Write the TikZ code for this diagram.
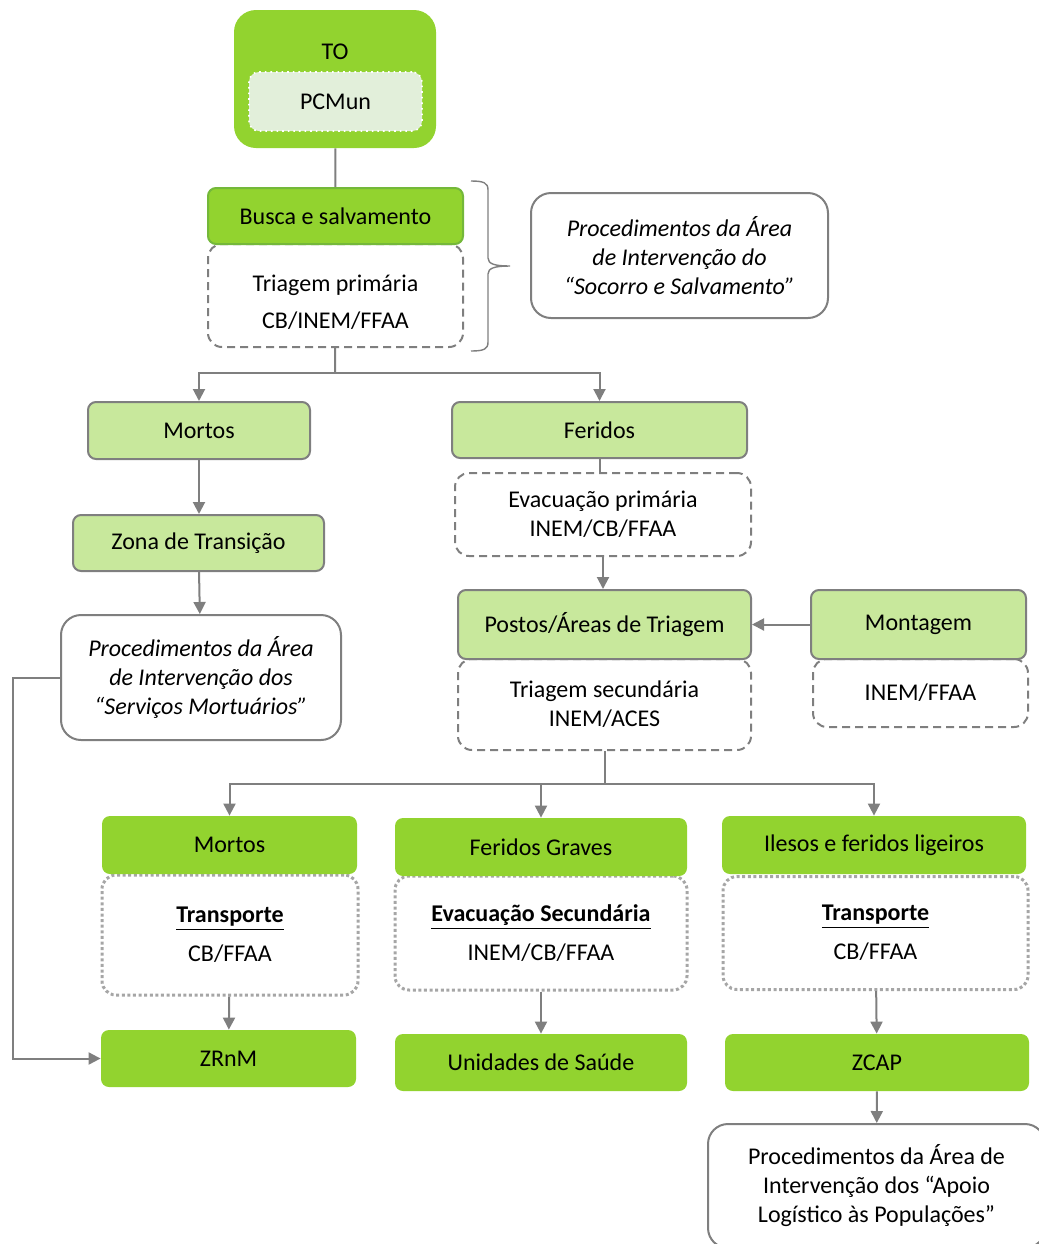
\documentclass[tikz,border=0pt]{standalone}
\usepackage{fontspec}
\setmainfont{Carlito}
\usetikzlibrary{
  arrows.meta,
  positioning
}
\definecolor{limeFill}{HTML}{92D32F}
\definecolor{limeEdge}{HTML}{74B83A}
\definecolor{paleFill}{HTML}{C8E89C}
\definecolor{mintFill}{HTML}{E2EFDA}
\definecolor{edgeGrey}{HTML}{7F7F7F}
\definecolor{dotGrey}{HTML}{A6A6A6}

\begin{document}
\begin{tikzpicture}[x=0.5pt, y=-0.5pt,
  every node/.style={font=\fontsize{12}{14.5}\selectfont, align=center, inner sep=0pt},
  wh/.style 2 args={minimum width=#1*0.5pt, minimum height=#2*0.5pt},
  lime/.style={fill=limeFill, rounded corners=4pt},
  pale/.style={fill=paleFill, draw=edgeGrey, line width=1pt, rounded corners=4pt},
  dashbox/.style={draw=edgeGrey, line width=1pt, dash pattern=on 4pt off 2.5pt, rounded corners=7pt},
  dotbox/.style={draw=dotGrey, line width=1.5pt, dash pattern=on 1.5pt off 1.3pt, rounded corners=7pt},
  procbox/.style={draw=edgeGrey, fill=white, line width=1pt, rounded corners=10pt},
  link/.style={draw=edgeGrey, line width=1pt},
  arrow/.style={link, -{Triangle[length=6pt, width=6pt]}}
]
  \useasboundingbox (0,0) rectangle (1039,1244);

  % top: operations theatre with the municipal command post
  \node[lime, rounded corners=11pt, wh={202}{138}] (to) at (335,79) {};
  \node (tolabel) at (335,52) {TO};
  \node[fill=mintFill, draw=white, dotted, line width=0.8pt, rounded corners=5pt, wh={173}{59}] (pcmun) at (335.5,101.5) {PCMun};

  % search and rescue
  \node[dashbox, wh={255}{103}] (triprim) at (335.5,295.5) {};
  \node (triprimtext) at (335.5,302) {Triagem primária\\[4pt] CB/INEM/FFAA};
  \node[lime, draw=limeEdge, line width=1pt, wh={255}{56}] (busca) at (335.5,216) {Busca e salvamento};
  \draw[edgeGrey, line width=0.7pt] (471,181) .. controls (484,181) and (488,183) .. (488,190) -- (488,258)
    .. controls (488,264) and (495,266) .. (510,266) .. controls (495,266) and (488,268) .. (488,274) -- (488,342)
    .. controls (488,349) and (484,351) .. (471,351);
  \node[procbox, wh={297}{125}, font=\fontsize{12}{14.5}\selectfont\itshape] (socorro) at (679.5,255.5)
    {Procedimentos da Área\\ de Intervenção do\\ “Socorro e Salvamento”};

  % dead branch
  \node[pale, wh={222}{57}] (mortos) at (199,430.5) {Mortos};
  \node[pale, wh={251}{56}] (zona) at (198.5,543) {Zona de Transição};
  \node[procbox, wh={280}{125}, font=\fontsize{12}{14.5}\selectfont\itshape] (servicos) at (201,677.5)
    {Procedimentos da Área\\ de Intervenção dos\\ “Serviços Mortuários”};

  % injured branch
  \node[pale, wh={295}{56}] (feridos) at (599.5,430) {Feridos};
  \node[dashbox, wh={296}{83}] (evacprim) at (603,514.5) {Evacuação primária\\ INEM/CB/FFAA};
  \node[dashbox, wh={293}{91}] (trisec) at (604.5,704.5) {Triagem secundária\\ INEM/ACES};
  \node[pale, wh={293}{69}] (postos) at (604.5,624.5) {Postos/Áreas de Triagem};
  \node[dashbox, wh={215}{68}] (montinem) at (920.5,693) {INEM/FFAA};
  \node[pale, wh={215}{69}] (montagem) at (918.5,624.5) {Montagem};

  % lower row
  \node[dotbox, wh={256}{120}] (transpa) at (230,935) {\underline{\textbf{Transporte}}\\[5pt] CB/FFAA};
  \node[lime, wh={255}{58}] (mortosb) at (229.5,845) {Mortos};
  \node[lime, wh={255}{57}] (zrnm) at (228.5,1058.5) {ZRnM};

  \node[dotbox, wh={292}{114}] (evacsec) at (541,933) {\underline{\textbf{Evacuação Secundária}}\\[5pt] INEM/CB/FFAA};
  \node[lime, wh={292}{58}] (graves) at (541,847) {Feridos Graves};
  \node[lime, wh={292}{57}] (unidades) at (541,1062.5) {Unidades de Saúde};

  \node[dotbox, wh={305}{113}] (transpb) at (875.5,933) {\underline{\textbf{Transporte}}\\[5pt] CB/FFAA};
  \node[lime, wh={304}{58}] (ilesos) at (874,845) {Ilesos e feridos ligeiros};
  \node[lime, wh={304}{57}] (zcap) at (877,1062.5) {ZCAP};
  \node[procbox, wh={337}{124}] (apoio) at (876.5,1186)
    {Procedimentos da Área de\\ Intervenção dos “Apoio\\ Logístico às Populações”};

  % connectors
  \coordinate (splittop) at (335,373);
  \coordinate (splitlow) at (605,784);
  \coordinate (rail) at (13,677.5);

  \draw[link] (to) -- (busca);
  \draw[link] (triprim) -- (splittop);
  \draw[arrow] (splittop) -| (mortos);
  \draw[arrow] (splittop) -| (feridos);
  \draw[arrow] (mortos) -- (mortos |- zona.north);
  \draw[arrow] (zona) -- (servicos);
  \draw[arrow] (servicos.west) -- (rail) |- (zrnm.west);

  \draw[link] (feridos.south) -- (feridos.south |- evacprim.north);
  \draw[arrow] (evacprim.south) -- (evacprim.south |- postos.north);
  \draw[arrow] (montagem) -- (postos);
  \draw[link] (trisec.south -| splitlow) -- (splitlow);
  \draw[arrow] (splitlow) -| (mortosb);
  \draw[arrow] (splitlow) -| (graves);
  \draw[arrow] (splitlow) -| (ilesos);

  \draw[arrow] (transpa) -- (zrnm);
  \draw[arrow] (evacsec) -- (unidades);
  \draw[arrow] (transpb) -- (zcap);
  \draw[arrow] (zcap) -- (apoio);
\end{tikzpicture}
\end{document}
